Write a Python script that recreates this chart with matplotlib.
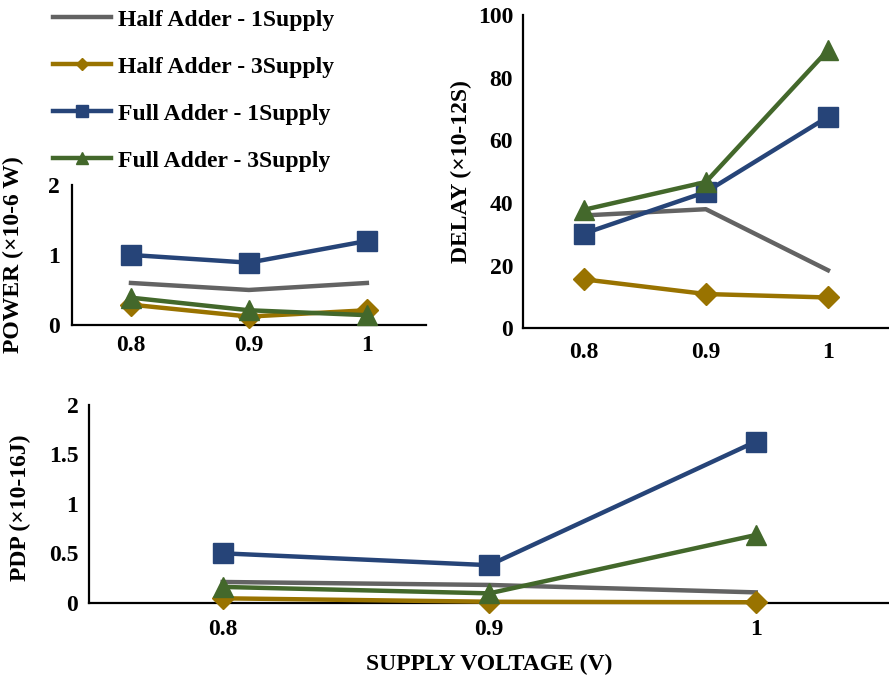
import matplotlib.pyplot as plt

# Data
voltages = ['0.8', '0.9', '1']
series = ['Half Adder - 1Supply', 'Half Adder - 3Supply',
          'Full Adder - 1Supply', 'Full Adder - 3Supply']

power_ha1 = [0.6, 0.5, 0.6]
power_ha3 = [0.29, 0.12, 0.21]
power_fa1 = [1.0, 0.89, 1.2]
power_fa3 = [0.39, 0.21, 0.14]

delay_ha1 = [36, 38, 18.5]
delay_ha3 = [15.6, 10.9, 9.8]
delay_fa1 = [30.2, 43.5, 67.5]
delay_fa3 = [37.8, 46.7, 88.8]

pdp_ha1 = [0.21, 0.18, 0.105]
pdp_ha3 = [0.045, 0.01, 0.005]
pdp_fa1 = [0.5, 0.38, 1.63]
pdp_fa3 = [0.16, 0.095, 0.685]

colors = ['#636363', '#997300', '#264478', '#43682B']
markers = [None, 'D', 's', '^']
msizes = [0, 11, 14, 14]

plt.rcParams['font.family'] = ['Liberation Serif', 'DejaVu Serif']
plt.rcParams['font.weight'] = 'bold'
plt.rcParams['font.size'] = 17

fig = plt.figure(figsize=(8.89, 6.78), dpi=100)
ax_p = fig.add_axes([0.081, 0.5207, 0.398, 0.2065])
ax_d = fig.add_axes([0.588, 0.516, 0.412, 0.4617])
ax_e = fig.add_axes([0.1006, 0.111, 0.8994, 0.2916])

x = range(len(voltages))


def draw(ax, data, ylim, yticks, yticklabels, ylabel, xpad, ypad):
    handles = []
    for vals, c, m, ms, name in zip(data, colors, markers, msizes, series):
        h, = ax.plot(x, vals, color=c, lw=3.2, marker=m, markersize=ms,
                     clip_on=False, label=name, zorder=3)
        handles.append(h)
    ax.set_xlim(-0.5, 2.5)
    ax.set_ylim(*ylim)
    ax.set_xticks(list(x))
    ax.set_xticklabels(voltages)
    ax.set_yticks(yticks)
    ax.set_yticklabels(yticklabels)
    ax.tick_params(length=0, labelsize=17)
    ax.tick_params(axis='x', pad=xpad)
    ax.tick_params(axis='y', pad=ypad)
    for s in ['top', 'right']:
        ax.spines[s].set_visible(False)
    for s in ['left', 'bottom']:
        ax.spines[s].set_linewidth(1.6)
    ax.set_ylabel(ylabel, fontsize=17, fontweight='bold')
    return handles


handles = draw(ax_p, [power_ha1, power_ha3, power_fa1, power_fa3],
               (0, 2), [0, 1, 2], ['0', '1', '2'], 'POWER (×10-6 W)', 7, 9)
ax_p.yaxis.set_label_coords(-0.136, 0.5)

draw(ax_d, [delay_ha1, delay_ha3, delay_fa1, delay_fa3],
     (0, 100), [0, 20, 40, 60, 80, 100],
     ['0', '20', '40', '60', '80', '100'], 'DELAY (×10-12S)', 10, 7)
ax_d.yaxis.set_label_coords(-0.139, 0.5)

draw(ax_e, [pdp_ha1, pdp_ha3, pdp_fa1, pdp_fa3],
     (0, 2), [0, 0.5, 1, 1.5, 2], ['0', '0.5', '1', '1.5', '2'],
     'PDP (×10-16J)', 11.5, 8)
ax_e.yaxis.set_label_coords(-0.073, 0.48)
ax_e.set_xlabel('SUPPLY VOLTAGE (V)', fontsize=17, fontweight='bold',
                labelpad=10)

fig.legend(handles=handles, loc='upper left', bbox_to_anchor=(0.036, 1.018),
           frameon=False, fontsize=17, handlelength=2.45, labelspacing=1.08,
           markerscale=0.6, handletextpad=0.3)

fig.savefig('out.png', dpi=100)
